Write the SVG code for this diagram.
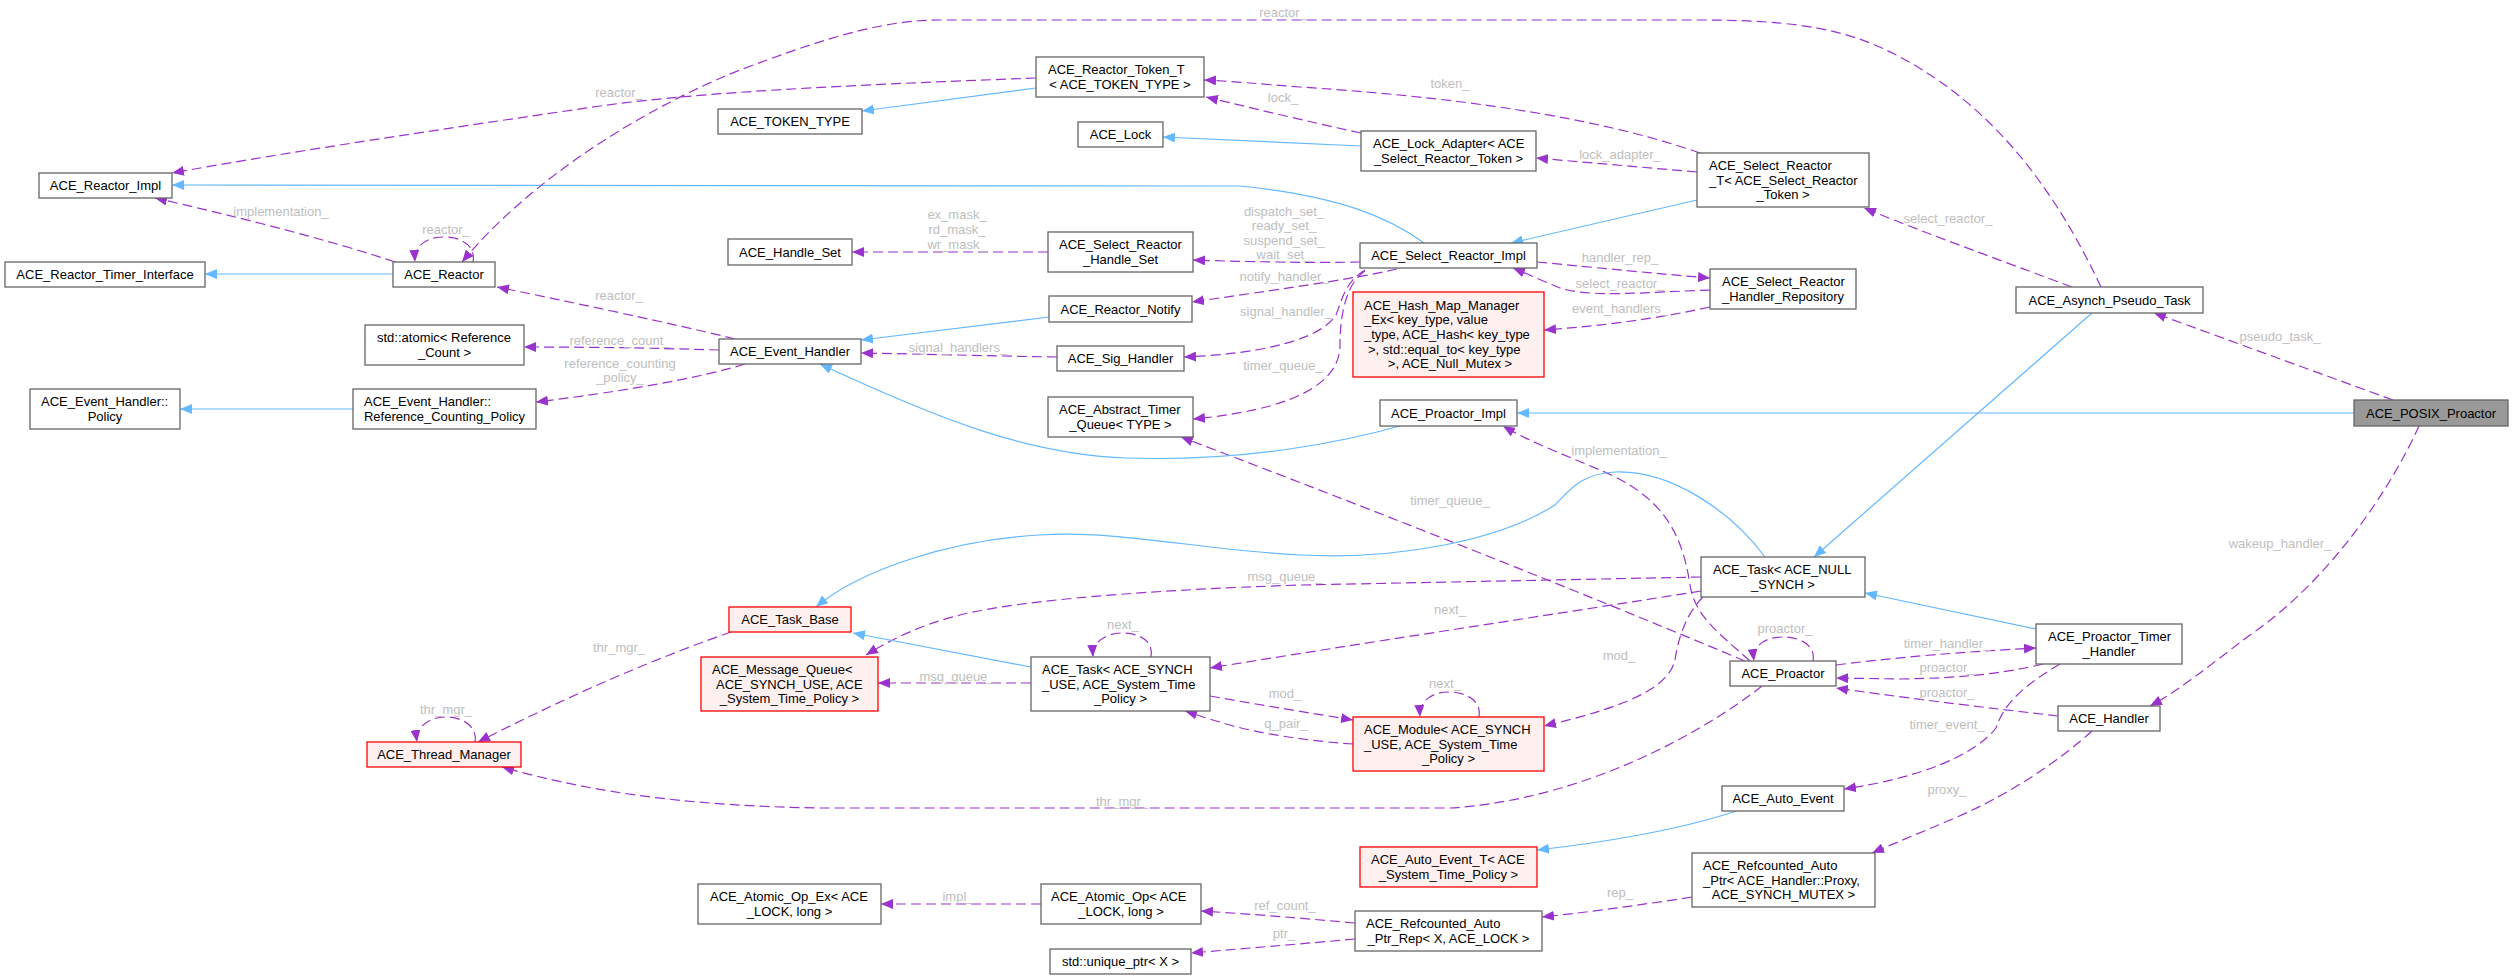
<svg xmlns="http://www.w3.org/2000/svg" width="2513" height="979" viewBox="0 0 2513 979">
<defs>
<style>
.node rect{fill:#ffffff;stroke:#666666;stroke-width:1.3}
.node.red rect{fill:#fff0f0;stroke:#ff0000}
.node.focus rect{fill:#999999;stroke:#666666}
text{font-family:"Liberation Sans",Arial,Helvetica,sans-serif;font-size:13px}
.node text{fill:#000000;text-anchor:middle}
.node text.s{text-anchor:start}
.lbl{fill:#bebebe;text-anchor:middle}
.e{fill:none;stroke-width:1.2}
.dep{stroke:#9a32cd;stroke-dasharray:10,5;marker-end:url(#ahp)}
.inh{stroke:#63b8ff;marker-end:url(#ahb)}
</style>
<marker id="ahp" viewBox="0 0 12 10" refX="12" refY="5" markerWidth="12" markerHeight="10" markerUnits="userSpaceOnUse" orient="auto"><path d="M0,0L12,5L0,10z" fill="#9a32cd"/></marker>
<marker id="ahb" viewBox="0 0 12 10" refX="12" refY="5" markerWidth="12" markerHeight="10" markerUnits="userSpaceOnUse" orient="auto"><path d="M0,0L12,5L0,10z" fill="#63b8ff"/></marker>
</defs>
<rect width="2513" height="979" fill="#ffffff"/>

<g id="connectors">
<path class="e inh" d="M1424,243 C1390,218 1340,196 1240,186 L172,185"/>
<g><path class="e dep" d="M1036,78 C850,85 700,92 600,106 C450,128 300,150 172,173"/><text class="lbl" x="619" y="96.5">reactor_</text></g>
<g><path class="e dep" d="M2101,287 C2060,200 2000,110 1900,57 C1850,30 1800,20 1700,20 L940,20 C880,20 820,40 740,70 C640,110 530,180 462,262"/><text class="lbl" x="1283" y="16.5">reactor_</text></g>
<g><path class="e dep" d="M395,262 C330,240 230,215 155,198"/><text class="lbl" x="281" y="215.5">implementation_</text></g>
<g><path class="e dep" d="M473,262 C476,246 462,237 444,237 C426,237 414,246 415,262"/><text class="lbl" x="446" y="233.5">reactor_</text></g>
<path class="e inh" d="M393,274 L205,274"/>
<g><path class="e dep" d="M735,339 C700,330 600,308 497,287"/><text class="lbl" x="619" y="299.5">reactor_</text></g>
<g><path class="e dep" d="M719,350 C680,349 620,347 524,347"/><text class="lbl" x="620" y="344.5">reference_count_</text></g>
<g><path class="e dep" d="M745,364 C700,378 620,392 536,402"/><text class="lbl" x="620" y="367.5">reference_counting</text><text class="lbl" x="620" y="381.5">_policy_</text></g>
<path class="e inh" d="M353,409 L180,409"/>
<path class="e inh" d="M1036,88 L862,111"/>
<g><path class="e dep" d="M1700,153 C1620,125 1500,100 1300,87 C1260,84 1230,81 1204,80"/><text class="lbl" x="1450" y="87.5">token_</text></g>
<g><path class="e dep" d="M1361,133 C1310,122 1260,110 1206,97"/><text class="lbl" x="1283" y="101.5">lock_</text></g>
<path class="e inh" d="M1361,146 L1163,137"/>
<g><path class="e dep" d="M1697,172 L1536,158"/><text class="lbl" x="1620" y="158.5">lock_adapter_</text></g>
<path class="e inh" d="M1697,200 L1511,243"/>
<g><path class="e dep" d="M1360,262 C1320,263 1250,262 1193,260"/><text class="lbl" x="1284" y="215.5">dispatch_set_</text><text class="lbl" x="1284" y="229.5">ready_set_</text><text class="lbl" x="1284" y="244.5">suspend_set_</text><text class="lbl" x="1284" y="258.5">wait_set_</text></g>
<g><path class="e dep" d="M1048,252 L852,252"/><text class="lbl" x="957" y="218.5">ex_mask_</text><text class="lbl" x="957" y="233.5">rd_mask_</text><text class="lbl" x="957" y="248.5">wr_mask_</text></g>
<g><path class="e dep" d="M1397,269 C1350,280 1260,292 1192,302"/><text class="lbl" x="1284" y="280.5">notify_handler_</text></g>
<path class="e inh" d="M1049,317 L861,340"/>
<g><path class="e dep" d="M1365,270 C1345,282 1342,300 1336,315 C1320,340 1260,354 1184,357"/><text class="lbl" x="1286" y="315.5">signal_handler_</text></g>
<g><path class="e dep" d="M1057,357 C990,356 920,354 861,353"/><text class="lbl" x="958" y="351.5">signal_handlers_</text></g>
<g><path class="e dep" d="M1365,271 C1348,282 1340,310 1340,345 C1340,385 1290,410 1193,419"/><text class="lbl" x="1283" y="369.5">timer_queue_</text></g>
<g><path class="e dep" d="M1537,262 C1600,268 1660,274 1710,278"/><text class="lbl" x="1620" y="261.5">handler_rep_</text></g>
<g><path class="e dep" d="M1710,290 C1650,292 1590,298 1560,288 C1545,282 1530,275 1513,268"/><text class="lbl" x="1620" y="287.5">select_reactor_</text></g>
<g><path class="e dep" d="M1710,307 C1650,320 1600,326 1544,330"/><text class="lbl" x="1620" y="312.5">event_handlers_</text></g>
<g><path class="e dep" d="M2072,287 C2000,260 1930,235 1864,208"/><text class="lbl" x="1948" y="222.5">select_reactor_</text></g>
<g><path class="e dep" d="M2393,400 L2154,313"/><text class="lbl" x="2280" y="340.5">pseudo_task_</text></g>
<path class="e inh" d="M2354,413 L1517,413"/>
<path class="e inh" d="M2092,313 L1814,557"/>
<g><path class="e dep" d="M2419,426 C2390,490 2330,580 2250,635 C2210,665 2180,690 2150,706"/><text class="lbl" x="2280" y="547.5">wakeup_handler_</text></g>
<path class="e inh" d="M2036,629 L1865,593"/>
<g><path class="e dep" d="M1836,665 C1900,657 1960,652 2036,648"/><text class="lbl" x="1947" y="647.5">timer_handler_</text></g>
<g><path class="e dep" d="M2043,664 C2010,672 1970,678 1900,679 L1836,678"/><text class="lbl" x="1947" y="671.5">proactor_</text></g>
<g><path class="e dep" d="M2058,716 C1990,708 1920,700 1836,688"/><text class="lbl" x="1947" y="696.5">proactor_</text></g>
<g><path class="e dep" d="M1813,661 C1816,645 1800,637 1783,637 C1766,637 1752,645 1754,661"/><text class="lbl" x="1785" y="632.5">proactor_</text></g>
<g><path class="e dep" d="M2060,664 C2030,682 2005,700 1996,728 C1975,755 1920,778 1844,789"/><text class="lbl" x="1947" y="728.5">timer_event_</text></g>
<g><path class="e dep" d="M2092,731 C2060,760 2010,795 1950,820 C1920,833 1895,843 1872,853"/><text class="lbl" x="1947" y="793.5">proxy_</text></g>
<path class="e inh" d="M1736,811 C1680,830 1600,843 1537,850"/>
<g><path class="e dep" d="M1692,897 C1640,905 1590,912 1542,917"/><text class="lbl" x="1620" y="896.5">rep_</text></g>
<g><path class="e dep" d="M1355,923 C1300,918 1250,914 1201,911"/><text class="lbl" x="1285" y="909.5">ref_count_</text></g>
<g><path class="e dep" d="M1355,939 C1300,944 1250,948 1191,953"/><text class="lbl" x="1284" y="937.5">ptr_</text></g>
<g><path class="e dep" d="M1041,904 L881,904"/><text class="lbl" x="958" y="900.5">impl_</text></g>
<g><path class="e dep" d="M731,632 C680,650 600,680 478,742"/><text class="lbl" x="619" y="651.5">thr_mgr_</text></g>
<g><path class="e dep" d="M475,742 C478,727 463,717 446,717 C429,717 415,727 417,742"/><text class="lbl" x="446" y="713.5">thr_mgr_</text></g>
<g><path class="e dep" d="M1762,686 C1700,735 1580,800 1450,808 L820,808 C700,806 600,795 502,767"/><text class="lbl" x="1122" y="805.5">thr_mgr_</text></g>
<g><path class="e dep" d="M1750,661 C1715,630 1695,615 1690,585 C1682,530 1660,495 1600,470 C1565,455 1530,442 1503,426"/><text class="lbl" x="1619" y="454.5">implementation_</text></g>
<g><path class="e dep" d="M1745,661 C1600,600 1400,520 1181,437"/><text class="lbl" x="1450" y="504.5">timer_queue_</text></g>
<path class="e inh" d="M1765,557 C1730,510 1670,470 1615,472 C1580,474 1570,490 1555,505 C1500,540 1400,560 1300,555 C1200,550 1120,530 1040,535 C950,540 860,570 816,607"/>
<path class="e inh" d="M1400,426 C1350,440 1250,462 1127,458 C1030,455 940,420 820,364"/>
<g><path class="e dep" d="M1701,577 L1300,585 C1150,590 1020,600 960,615 C920,625 890,640 866,655"/><text class="lbl" x="1285" y="580.5">msg_queue_</text></g>
<path class="e inh" d="M1031,667 L853,633"/>
<g><path class="e dep" d="M1151,657 C1154,640 1138,633 1122,633 C1106,633 1092,642 1093,657"/><text class="lbl" x="1123" y="628.5">next_</text></g>
<g><path class="e dep" d="M1701,591 C1550,615 1350,645 1210,668"/><text class="lbl" x="1450" y="613.5">next_</text></g>
<g><path class="e dep" d="M1703,597 C1685,615 1678,640 1675,660 C1668,690 1620,708 1544,726"/><text class="lbl" x="1619" y="659.5">mod_</text></g>
<g><path class="e dep" d="M1210,696 C1260,705 1310,713 1353,720"/><text class="lbl" x="1285" y="697.5">mod_</text></g>
<g><path class="e dep" d="M1353,744 C1320,742 1260,735 1220,722 C1205,718 1195,714 1185,711"/><text class="lbl" x="1286" y="727.5">q_pair_</text></g>
<g><path class="e dep" d="M1479,717 C1482,700 1465,692 1449,692 C1433,692 1419,700 1420,717"/><text class="lbl" x="1445" y="687.5">next_</text></g>
<g><path class="e dep" d="M1031,683 L878,683"/><text class="lbl" x="957" y="680.5">msg_queue_</text></g>
</g>

<g id="n_ACE_POSIX_Proactor" class="node focus"><rect x="2354" y="400" width="154" height="26"/><text x="2431" y="417.5">ACE_POSIX_Proactor</text></g>
<g id="n_ACE_Asynch_Pseudo_Task" class="node"><rect x="2016" y="287" width="187" height="26"/><text x="2109.5" y="304.5">ACE_Asynch_Pseudo_Task</text></g>
<g id="n_ACE_Reactor" class="node"><rect x="393" y="262" width="102" height="25"/><text x="444" y="279">ACE_Reactor</text></g>
<g id="n_ACE_Reactor_Impl" class="node"><rect x="39" y="173" width="133" height="25"/><text x="105.5" y="190">ACE_Reactor_Impl</text></g>
<g id="n_ACE_Reactor_Timer_Interface" class="node"><rect x="5" y="262" width="200" height="25"/><text x="105" y="279">ACE_Reactor_Timer_Interface</text></g>
<g id="n_ACE_Event_Handler" class="node"><rect x="719" y="339" width="142" height="25"/><text x="790" y="356">ACE_Event_Handler</text></g>
<g id="n_std_atomic" class="node"><rect x="365" y="325" width="159" height="40"/><text class="s" x="377" y="342.2">std::atomic&lt; Reference</text><text x="444.5" y="356.8">_Count &gt;</text></g>
<g id="n_Reference_Counting_Policy" class="node"><rect x="353" y="389" width="183" height="40"/><text class="s" x="364" y="406.2">ACE_Event_Handler::</text><text x="444.5" y="420.8">Reference_Counting_Policy</text></g>
<g id="n_Policy" class="node"><rect x="30" y="389" width="150" height="40"/><text class="s" x="41" y="406.2">ACE_Event_Handler::</text><text x="105" y="420.8">Policy</text></g>
<g id="n_ACE_Reactor_Token_T" class="node"><rect x="1036" y="57" width="168" height="40"/><text class="s" x="1048" y="74.2">ACE_Reactor_Token_T</text><text x="1120" y="88.8">&lt; ACE_TOKEN_TYPE &gt;</text></g>
<g id="n_ACE_TOKEN_TYPE" class="node"><rect x="718" y="109" width="144" height="25"/><text x="790" y="126">ACE_TOKEN_TYPE</text></g>
<g id="n_ACE_Lock" class="node"><rect x="1078" y="122" width="85" height="25"/><text x="1120.5" y="139">ACE_Lock</text></g>
<g id="n_ACE_Lock_Adapter" class="node"><rect x="1361" y="131" width="175" height="40"/><text class="s" x="1373" y="148.2">ACE_Lock_Adapter&lt; ACE</text><text x="1448.5" y="162.8">_Select_Reactor_Token &gt;</text></g>
<g id="n_ACE_Select_Reactor_T" class="node"><rect x="1697" y="153" width="172" height="54"/><text class="s" x="1709" y="169.8">ACE_Select_Reactor</text><text class="s" x="1709" y="184.5">_T&lt; ACE_Select_Reactor</text><text x="1783" y="199.2">_Token &gt;</text></g>
<g id="n_ACE_Select_Reactor_Impl" class="node"><rect x="1360" y="243" width="177" height="25"/><text x="1448.5" y="260">ACE_Select_Reactor_Impl</text></g>
<g id="n_ACE_Handle_Set" class="node"><rect x="728" y="239" width="124" height="26"/><text x="790" y="256.5">ACE_Handle_Set</text></g>
<g id="n_ACE_Select_Reactor_Handle_Set" class="node"><rect x="1048" y="232" width="145" height="40"/><text class="s" x="1059" y="249.2">ACE_Select_Reactor</text><text x="1120.5" y="263.8">_Handle_Set</text></g>
<g id="n_ACE_Reactor_Notify" class="node"><rect x="1049" y="296" width="143" height="26"/><text x="1120.5" y="313.5">ACE_Reactor_Notify</text></g>
<g id="n_ACE_Sig_Handler" class="node"><rect x="1057" y="346" width="127" height="25"/><text x="1120.5" y="363">ACE_Sig_Handler</text></g>
<g id="n_ACE_Select_Reactor_Handler_Repository" class="node"><rect x="1710" y="269" width="146" height="40"/><text class="s" x="1722" y="286.2">ACE_Select_Reactor</text><text x="1783" y="300.8">_Handler_Repository</text></g>
<g id="n_ACE_Hash_Map_Manager_Ex" class="node red"><rect x="1353" y="292" width="191" height="85"/><text class="s" x="1364" y="309.6">ACE_Hash_Map_Manager</text><text class="s" x="1364" y="324.3">_Ex&lt; key_type, value</text><text class="s" x="1364" y="339">_type, ACE_Hash&lt; key_type</text><text class="s" x="1368" y="353.7">&gt;, std::equal_to&lt; key_type</text><text x="1450" y="368.4">&gt;, ACE_Null_Mutex &gt;</text></g>
<g id="n_ACE_Abstract_Timer_Queue" class="node"><rect x="1048" y="397" width="145" height="40"/><text class="s" x="1059" y="414.2">ACE_Abstract_Timer</text><text x="1120.5" y="428.8">_Queue&lt; TYPE &gt;</text></g>
<g id="n_ACE_Proactor_Impl" class="node"><rect x="1380" y="400" width="137" height="26"/><text x="1448.5" y="417.5">ACE_Proactor_Impl</text></g>
<g id="n_ACE_Task_NULL_SYNCH" class="node"><rect x="1701" y="557" width="164" height="40"/><text class="s" x="1713" y="574.2">ACE_Task&lt; ACE_NULL</text><text x="1783" y="588.8">_SYNCH &gt;</text></g>
<g id="n_ACE_Task_Base" class="node red"><rect x="729" y="607" width="122" height="25"/><text x="790" y="624">ACE_Task_Base</text></g>
<g id="n_ACE_Message_Queue" class="node red"><rect x="701" y="657" width="177" height="54"/><text class="s" x="712" y="673.8">ACE_Message_Queue&lt;</text><text class="s" x="716" y="688.5">ACE_SYNCH_USE, ACE</text><text x="789.5" y="703.2">_System_Time_Policy &gt;</text></g>
<g id="n_ACE_Thread_Manager" class="node red"><rect x="367" y="742" width="154" height="25"/><text x="444" y="759">ACE_Thread_Manager</text></g>
<g id="n_ACE_Task_SYNCH_USE" class="node"><rect x="1031" y="657" width="179" height="54"/><text class="s" x="1042" y="673.8">ACE_Task&lt; ACE_SYNCH</text><text class="s" x="1042" y="688.5">_USE, ACE_System_Time</text><text x="1120.5" y="703.2">_Policy &gt;</text></g>
<g id="n_ACE_Module" class="node red"><rect x="1353" y="717" width="191" height="54"/><text class="s" x="1364" y="733.8">ACE_Module&lt; ACE_SYNCH</text><text class="s" x="1364" y="748.5">_USE, ACE_System_Time</text><text x="1448.5" y="763.2">_Policy &gt;</text></g>
<g id="n_ACE_Proactor" class="node"><rect x="1730" y="661" width="106" height="25"/><text x="1783" y="678">ACE_Proactor</text></g>
<g id="n_ACE_Proactor_Timer_Handler" class="node"><rect x="2036" y="624" width="146" height="40"/><text class="s" x="2048" y="641.2">ACE_Proactor_Timer</text><text x="2109" y="655.8">_Handler</text></g>
<g id="n_ACE_Handler" class="node"><rect x="2058" y="706" width="102" height="25"/><text x="2109" y="723">ACE_Handler</text></g>
<g id="n_ACE_Auto_Event" class="node"><rect x="1722" y="786" width="122" height="25"/><text x="1783" y="803">ACE_Auto_Event</text></g>
<g id="n_ACE_Auto_Event_T" class="node red"><rect x="1360" y="847" width="177" height="40"/><text class="s" x="1371" y="864.2">ACE_Auto_Event_T&lt; ACE</text><text x="1448.5" y="878.8">_System_Time_Policy &gt;</text></g>
<g id="n_ACE_Refcounted_Auto_Ptr" class="node"><rect x="1692" y="853" width="183" height="54"/><text class="s" x="1703" y="869.8">ACE_Refcounted_Auto</text><text class="s" x="1703" y="884.5">_Ptr&lt; ACE_Handler::Proxy,</text><text x="1783.5" y="899.2">ACE_SYNCH_MUTEX &gt;</text></g>
<g id="n_ACE_Refcounted_Auto_Ptr_Rep" class="node"><rect x="1355" y="911" width="187" height="40"/><text class="s" x="1366" y="928.2">ACE_Refcounted_Auto</text><text x="1448.5" y="942.8">_Ptr_Rep&lt; X, ACE_LOCK &gt;</text></g>
<g id="n_ACE_Atomic_Op_Ex" class="node"><rect x="698" y="884" width="183" height="40"/><text class="s" x="710" y="901.2">ACE_Atomic_Op_Ex&lt; ACE</text><text x="789.5" y="915.8">_LOCK, long &gt;</text></g>
<g id="n_ACE_Atomic_Op" class="node"><rect x="1041" y="884" width="160" height="40"/><text class="s" x="1051" y="901.2">ACE_Atomic_Op&lt; ACE</text><text x="1121" y="915.8">_LOCK, long &gt;</text></g>
<g id="n_std_unique_ptr" class="node"><rect x="1050" y="949" width="141" height="25"/><text x="1120.5" y="966">std::unique_ptr&lt; X &gt;</text></g>
</svg>
